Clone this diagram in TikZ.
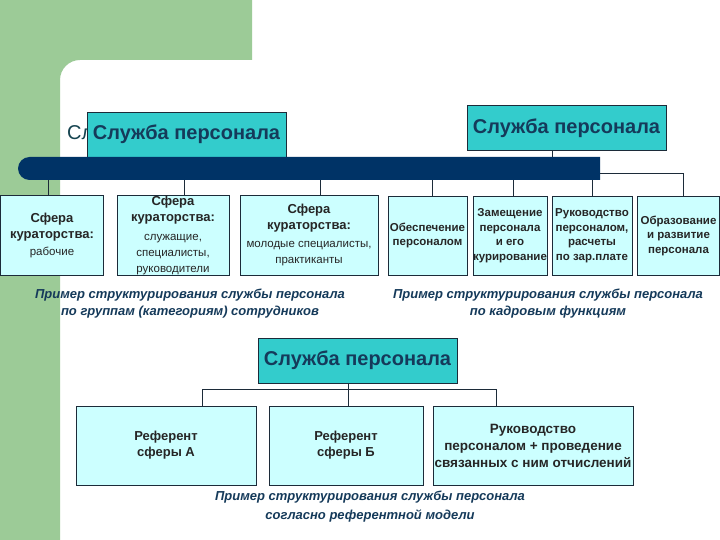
\documentclass[tikz,border=0pt]{standalone}
\usepackage{fontspec}
\setmainfont{Liberation Sans}
\usetikzlibrary{shapes.misc}

\definecolor{bggreen}{HTML}{9CCB97}
\definecolor{tealbox}{HTML}{33CCCC}
\definecolor{lightbox}{HTML}{CCFFFF}
\definecolor{barblue}{HTML}{003366}
\definecolor{navytext}{HTML}{153A5A}
\definecolor{shadetext}{HTML}{164450}
\definecolor{linecol}{HTML}{1C2B39}

\begin{document}
\begin{tikzpicture}[x=1pt,y=-1pt,
    title/.style={draw=linecol, line width=0.8pt, fill=tealbox, text=navytext,
        font=\fontsize{20}{23}\selectfont\bfseries, minimum width=199pt, minimum height=45pt, inner sep=0pt},
    unit/.style={draw=linecol, line width=0.8pt, fill=lightbox, text=black!85, align=center,
        inner sep=0pt, minimum height=80pt, font=\fontsize{13}{16}\selectfont\bfseries},
    small/.style={font=\fontsize{11.5}{14.5}\selectfont\bfseries},
    wire/.style={draw=linecol, line width=0.8pt},
    caption/.style={text=navytext, align=center, font=\fontsize{13}{17}\selectfont\bfseries\itshape}
  ]
    \useasboundingbox (0,0) rectangle (720,540);
    \fill[white] (0,0) rectangle (720,540);

    % Фон слайда
    \fill[bggreen] (0,0) -- (252,0) -- (252,60) -- (80,60)
        arc[start angle=270, end angle=180, radius=20] -- (60,540) -- (0,540) -- cycle;

    % Заголовок, закрытый блоком
    \node[anchor=west, text=shadetext, font=\fontsize{20}{23}\selectfont, inner sep=0pt] (ghost) at (67,134) {Служба персонала};

    % Схема 1: по группам сотрудников
    \node[title] (sp1) at (186.5,134.5) {Служба персонала};
    \node[fill=barblue, rounded rectangle, rounded rectangle right arc=none,
        minimum width=582pt, minimum height=23pt, inner sep=0pt] (bar) at (309,168.5) {};

    \node[unit, minimum width=103pt] (cat1) at (52,235)
        {Сфера\\кураторства:\\[1pt]{\normalfont\fontsize{11.5}{14}\selectfont рабочие}};
    \node[unit, minimum width=112pt] (cat2) at (173,235)
        {Сфера\\кураторства:\\[3pt]{\normalfont\fontsize{11.5}{14}\selectfont служащие,}\\
         {\normalfont\fontsize{11.5}{14}\selectfont специалисты,}\\{\normalfont\fontsize{11.5}{14}\selectfont руководители}};
    \node[unit, minimum width=138pt] (cat3) at (309,235)
        {Сфера\\кураторства:\\[2pt]{\normalfont\fontsize{11.5}{14}\selectfont молодые специалисты,}\\
         {\normalfont\fontsize{11.5}{14}\selectfont практиканты}};

    \draw[wire] ([xshift=-4pt]cat1.north) -- ([xshift=-4pt]cat1.north |- bar.south);
    \draw[wire] ([xshift=11pt]cat2.north) -- ([xshift=11pt]cat2.north |- bar.south);
    \draw[wire] ([xshift=11pt]cat3.north) -- ([xshift=11pt]cat3.north |- bar.south);

    \node[caption] (cap1) at (190,303.5) {Пример структурирования службы персонала\\по группам (категориям) сотрудников};

    % Схема 2: по кадровым функциям
    \node[title] (sp2) at (566.5,128) {Служба персонала};
    \draw[wire] ([xshift=-14pt]sp2.south) -- ([xshift=-14pt]sp2.south |- bar.north);

    \node[unit, small, minimum width=79pt, minimum height=79pt] (fn1) at (427.5,235.5) {Обеспечение\\персоналом};
    \node[unit, small, minimum width=74pt, minimum height=79pt] (fn2) at (510,235.5) {Замещение\\персонала\\и его\\курирование};
    \node[unit, small, minimum width=80pt, minimum height=79pt] (fn3) at (592,235.5) {Руководство\\персоналом,\\расчеты\\по зар.плате};
    \node[unit, small, minimum width=82pt, minimum height=79pt] (fn4) at (678.5,235.5) {Образование\\и развитие\\персонала};

    \draw[wire] ([xshift=5pt]fn1.north) -- ([xshift=5pt]fn1.north |- bar.south);
    \draw[wire] ([xshift=3pt]fn2.north) -- ([xshift=3pt]fn2.north |- bar.south);
    \draw[wire] (fn3.north) -- (fn3.north |- bar.south);
    \draw[wire] ([yshift=-4.5pt]bar.east) -| ([xshift=4.5pt]fn4.north);

    \node[caption] (cap2) at (548,303.5) {Пример структурирования службы персонала\\по кадровым функциям};

    % Схема 3: референтная модель
    \node[title] (sp3) at (357.5,360.5) {Служба персонала};

    \node[unit, minimum width=180pt, minimum height=79pt] (ref1) at (166,445.5) {Референт\\сферы А};
    \node[unit, minimum width=154pt, minimum height=79pt] (ref2) at (346,445.5) {Референт\\сферы Б};
    \node[unit, minimum width=200pt, minimum height=79pt, font=\fontsize{13.5}{16}\selectfont\bfseries] (ref3) at (533,445.5)
        {Руководство\\[1pt]персоналом + проведение\\[1pt]связанных с ним отчислений};

    \coordinate (fork) at ([xshift=-9.5pt,yshift=-6pt]sp3.south);
    \draw[wire] ([xshift=-9.5pt]sp3.south) -- (fork);
    \draw[wire] ([xshift=36pt]ref1.north) |- (fork) -| ([xshift=-37pt]ref3.north);
    \draw[wire] (fork) -- (fork |- ref2.north);

    \node[caption] (cap3) at (370,506.5) {Пример структурирования службы персонала\\[2pt]согласно референтной модели};
\end{tikzpicture}
\end{document}
